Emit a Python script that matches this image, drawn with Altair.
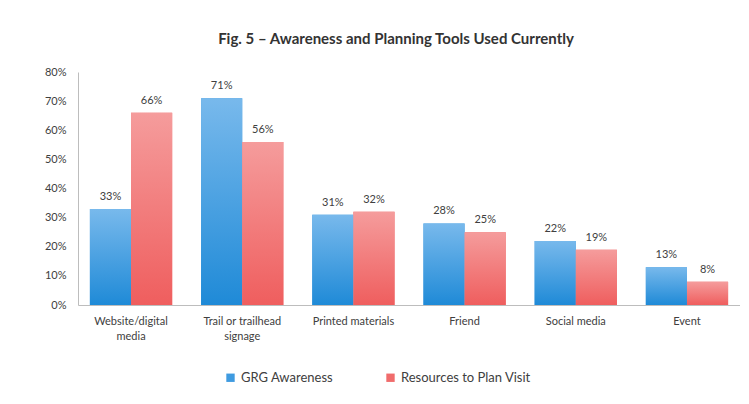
import altair as alt
import pandas as pd

categories = ["Website/digital media", "Trail or trailhead signage", "Printed materials",
              "Friend", "Social media", "Event"]
series = ["GRG Awareness", "Resources to Plan Visit"]
awareness = [33, 71, 31, 28, 22, 13]
resources = [66, 56, 32, 25, 19, 8]
colors = ["#3f9be0", "#f06c6c"]
grad_top = ["#78b9ec", "#f59c9c"]
grad_bottom = ["#1f8ad7", "#ef5e5e"]

rows = []
for c, a, r in zip(categories, awareness, resources):
    rows.append({"cat": c, "series": series[0], "value": a / 100})
    rows.append({"cat": c, "series": series[1], "value": r / 100})
df = pd.DataFrame(rows)

FONT = "Lato"
label_expr = ("datum.value == 'Website/digital media' ? ['Website/digital', 'media'] : "
              "datum.value == 'Trail or trailhead signage' ? ['Trail or trailhead', 'signage'] : datum.value")

x = alt.X("cat:N", sort=categories, title=None,
          scale=alt.Scale(paddingInner=0.26, paddingOuter=0.107),
          axis=alt.Axis(labelAngle=0, labelExpr=label_expr, ticks=False, domainColor="#bdbdbd",
                        labelFont=FONT, labelFontSize=11, labelColor="#404040", labelPadding=10,
                        labelLineHeight=15))
y = alt.Y("value:Q", title=None,
          scale=alt.Scale(domain=[0, 0.8]),
          axis=alt.Axis(format=".0%", values=[i / 10 for i in range(9)], grid=False, ticks=False,
                        domainColor="#bdbdbd", labelFont=FONT, labelFontSize=11,
                        labelColor="#404040", labelPadding=12))
xo = alt.XOffset("series:N", sort=series, scale=alt.Scale(domain=series))

bars = alt.Chart(df).mark_bar().encode(
    x=x, y=y, xOffset=xo,
    color=alt.Color("series:N", sort=series,
                    scale=alt.Scale(domain=series, range=colors),
                    legend=alt.Legend(title=None, orient="none", legendX=146, legendY=299,
                                      direction="horizontal", symbolType="square", symbolSize=70,
                                      labelFont=FONT, labelFontSize=13, labelColor="#404040",
                                      columnPadding=50, symbolStrokeWidth=0))
)

grad_layers = []
for i, s in enumerate(series):
    g = alt.Gradient(gradient="linear",
                     stops=[alt.GradientStop(color=grad_top[i], offset=0),
                            alt.GradientStop(color=grad_bottom[i], offset=1)],
                     x1=0, x2=0, y1=0, y2=1)
    grad_layers.append(
        alt.Chart(df).transform_filter(alt.datum.series == s).mark_bar(color=g).encode(
            x=x, y=y, xOffset=xo)
    )

labels = alt.Chart(df).mark_text(baseline="bottom", dy=-7, font=FONT, fontSize=11,
                                 color="#404040").encode(
    x=x, y=y, xOffset=xo, text=alt.Text("value:Q", format=".0%")
)

chart = alt.layer(bars, *grad_layers, labels).properties(
    width=662, height=233,
    autosize=alt.AutoSizeParams(type="none"),
    padding={"left": 70, "top": 64, "right": 0, "bottom": 91},
    title=alt.TitleParams("Fig. 5 – Awareness and Planning Tools Used Currently",
                          font=FONT, fontSize=15, fontWeight="bold", color="#333333",
                          anchor="middle", offset=19, dx=-13),
).configure_view(stroke=None)

chart.save("out.html", embed_options={"renderer": "svg", "actions": False})
